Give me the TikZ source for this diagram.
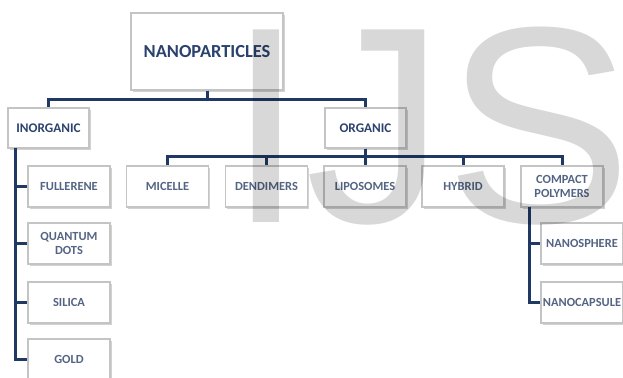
\documentclass[tikz,border=0pt]{standalone}
\usepackage{fontspec}
\setmainfont{Carlito}
\newfontfamily\markfont{Liberation Sans}
\usepackage{tikz}
\usetikzlibrary{positioning,shadows,calc}
\definecolor{linkblue}{RGB}{31,56,100}
\definecolor{headblue}{RGB}{44,66,110}
\definecolor{labelblue}{RGB}{84,100,132}
\definecolor{boxgrey}{RGB}{196,196,196}
\definecolor{markgrey}{RGB}{216,216,216}
\tikzstyle{catbox} = [draw=boxgrey, line width=0.6pt, fill=white, minimum width=40.5pt, minimum height=20pt, inner sep=1pt, align=center, text=headblue, font=\bfseries\fontsize{6.6}{6.6}\selectfont, drop shadow={shadow xshift=0.8pt, shadow yshift=-0.8pt, opacity=0.35}]
\tikzstyle{subbox} = [catbox, minimum width=41pt, minimum height=20.5pt, text=labelblue, font=\bfseries\fontsize{6.2}{7}\selectfont]
\tikzstyle{link} = [line width=1.5pt, draw=linkblue]

\begin{document}
\begin{tikzpicture}[x=0.5pt, y=-0.5pt]
        \useasboundingbox[fill=white] (0,0) rectangle (623,378);
        \node[catbox, minimum width=76pt, minimum height=38.5pt, font=\bfseries\fontsize{9.2}{9.2}\selectfont] (np) at (207,51.5) {NANOPARTICLES};
        \node[catbox] (inorg) at (48.5,128) {INORGANIC};
        \node[catbox] (org) at (365.5,128) {ORGANIC};
        % organic branch
        \node[subbox] (micelle) at (167.5,186.5) {MICELLE};
        \node[subbox] (dendi) at (266.5,186.5) {DENDIMERS};
        \node[subbox] (lipo) at (365,186.5) {LIPOSOMES};
        \node[subbox] (hybrid) at (463,186.5) {HYBRID};
        \node[subbox] (compact) at (562,186.5) {COMPACT\\POLYMERS};
        \node[subbox] (sphere) at (582,243.5) {NANOSPHERE};
        \node[subbox] (capsule) at (582,302.5) {NANOCAPSULE};
        % inorganic branch
        \node[subbox] (fuller) at (69,186.5) {FULLERENE};
        \node[subbox] (quantum) at (69,243.5) {QUANTUM\\DOTS};
        \node[subbox] (silica) at (69,302.5) {SILICA};
        \node[subbox] (gold) at (69,359.5) {GOLD};
        \coordinate (ispine) at (15,148);
        \coordinate (cspine) at (529,207);

        \draw[link] (np.south) -- ++(0,9) -| (inorg.north);
        \draw[link] (np.south) -- ++(0,9) -| (org.north);
        \foreach \kid in {micelle,dendi,lipo,hybrid,compact}
            \draw[link] (org.south) -- ++(0,8) -| (\kid.north);
        \foreach \kid in {fuller,quantum,silica,gold}
            \draw[link] (ispine) |- (\kid.west);
        \foreach \kid in {sphere,capsule}
            \draw[link] (cspine) |- (\kid.west);

        \node[anchor=base west, inner sep=0pt, text=markgrey, blend mode=multiply, font=\markfont\fontsize{140}{140}\selectfont] (mark) at (227,223) {IJS};
        \end{tikzpicture}
\end{document}
